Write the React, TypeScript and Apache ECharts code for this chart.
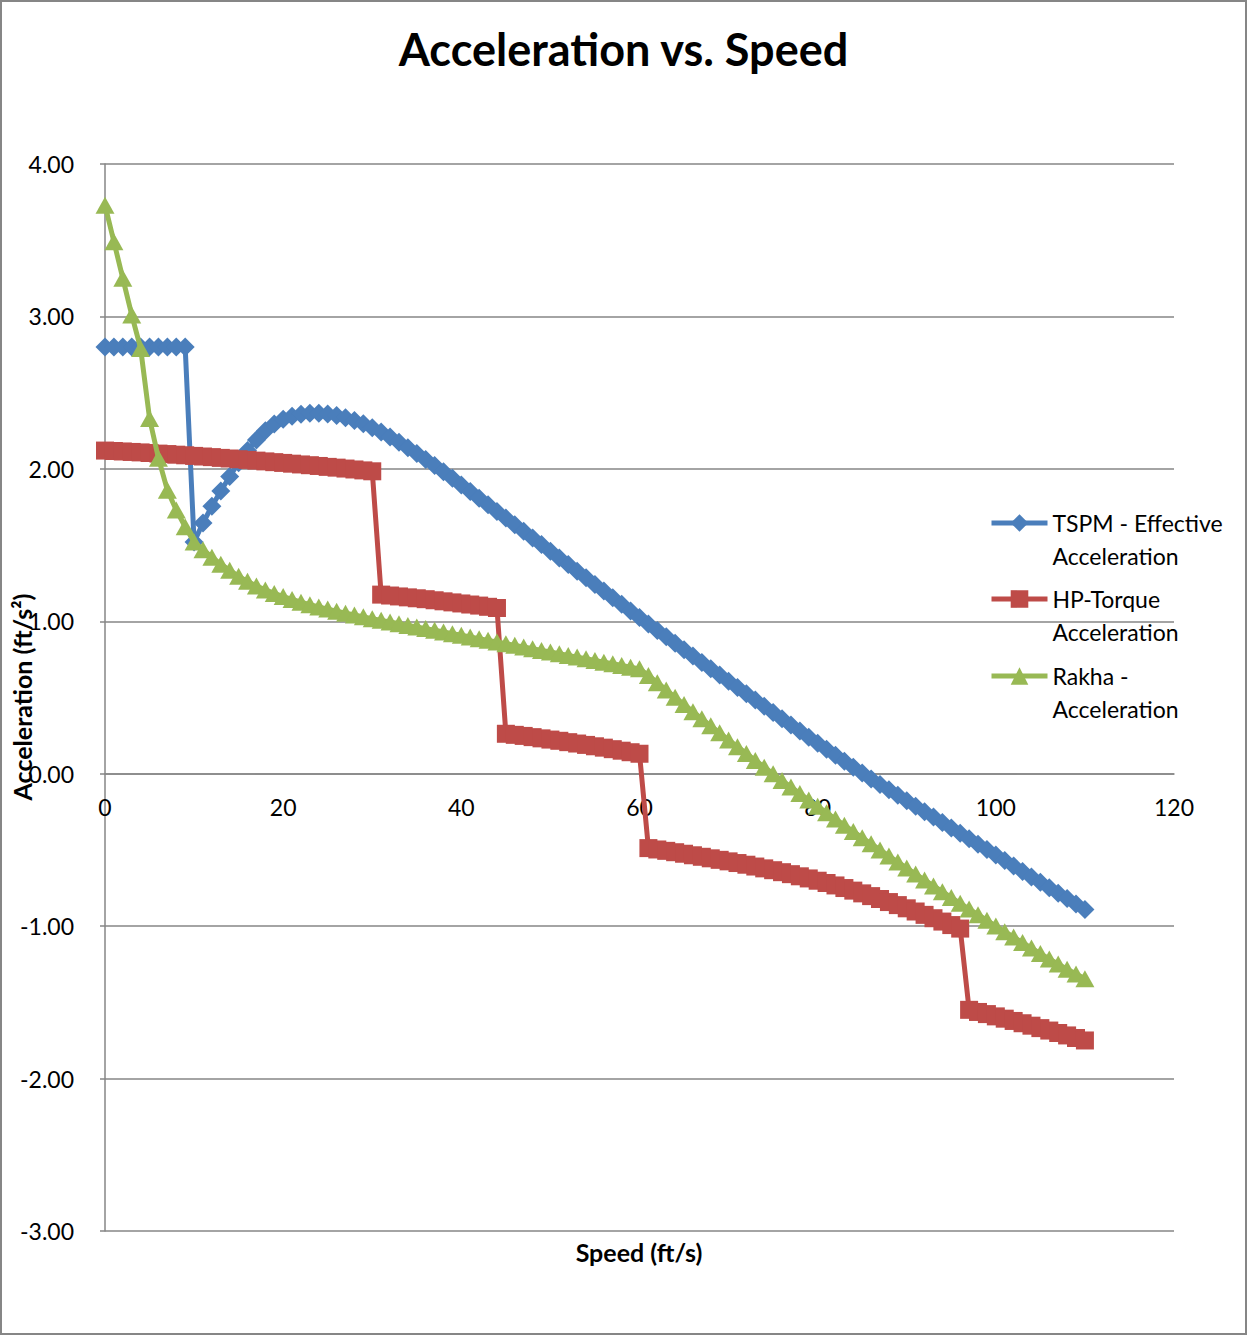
import React, { useEffect, useRef } from 'react';
import * as echarts from 'echarts';

// Speed samples (ft/s)
const speeds = [
  0, 1, 2, 3, 4, 5, 6, 7, 8, 9, 10, 11, 12, 13, 14, 15, 16, 17, 18, 19,
  20, 21, 22, 23, 24, 25, 26, 27, 28, 29, 30, 31, 32, 33, 34, 35, 36, 37, 38, 39,
  40, 41, 42, 43, 44, 45, 46, 47, 48, 49, 50, 51, 52, 53, 54, 55, 56, 57, 58, 59,
  60, 61, 62, 63, 64, 65, 66, 67, 68, 69, 70, 71, 72, 73, 74, 75, 76, 77, 78, 79,
  80, 81, 82, 83, 84, 85, 86, 87, 88, 89, 90, 91, 92, 93, 94, 95, 96, 97, 98, 99,
  100, 101, 102, 103, 104, 105, 106, 107, 108, 109, 110,
];

// TSPM - effective acceleration (ft/s^2)
const tspmAccel = [
  2.8, 2.8, 2.8, 2.8, 2.8, 2.8, 2.8, 2.8, 2.8, 2.8,
  1.52, 1.645, 1.755, 1.855, 1.95, 2.04, 2.12, 2.19, 2.25, 2.295,
  2.325, 2.345, 2.358, 2.364, 2.365, 2.36, 2.35, 2.336, 2.318, 2.296,
  2.27, 2.241, 2.209, 2.175, 2.139, 2.101, 2.062, 2.022, 1.981, 1.938,
  1.894, 1.851, 1.807, 1.764, 1.72, 1.677, 1.633, 1.59, 1.546, 1.503,
  1.459, 1.416, 1.372, 1.329, 1.285, 1.242, 1.198, 1.155, 1.111, 1.068,
  1.025, 0.982, 0.94, 0.898, 0.856, 0.814, 0.772, 0.73, 0.688, 0.647,
  0.606, 0.565, 0.524, 0.483, 0.442, 0.401, 0.36, 0.32, 0.28, 0.24,
  0.2, 0.16, 0.121, 0.082, 0.043, 0.004, -0.034, -0.07, -0.106, -0.142,
  -0.177, -0.213, -0.249, -0.284, -0.32, -0.356, -0.391, -0.427, -0.463, -0.498,
  -0.534, -0.57, -0.605, -0.641, -0.677, -0.712, -0.748, -0.784, -0.819, -0.855,
  -0.89,
];

// HP-Torque acceleration (ft/s^2), one step per gear
const hpTorqueAccel = [
  2.12, 2.117, 2.114, 2.111, 2.108, 2.104, 2.1, 2.097, 2.093, 2.089,
  2.085, 2.081, 2.077, 2.072, 2.068, 2.063, 2.059, 2.054, 2.049, 2.044,
  2.039, 2.034, 2.029, 2.024, 2.019, 2.013, 2.008, 2.002, 1.996, 1.99,
  1.984, 1.175, 1.169, 1.163, 1.157, 1.151, 1.145, 1.138, 1.131, 1.124,
  1.117, 1.11, 1.103, 1.095, 1.087, 0.262, 0.255, 0.248, 0.24, 0.232,
  0.224, 0.216, 0.207, 0.198, 0.189, 0.18, 0.171, 0.161, 0.151, 0.141,
  0.131, -0.488, -0.497, -0.506, -0.515, -0.525, -0.535, -0.545, -0.555, -0.565,
  -0.575, -0.586, -0.597, -0.609, -0.621, -0.633, -0.646, -0.659, -0.673, -0.687,
  -0.702, -0.717, -0.733, -0.75, -0.767, -0.785, -0.803, -0.822, -0.842, -0.862,
  -0.883, -0.904, -0.926, -0.948, -0.97, -0.993, -1.016, -1.549, -1.563, -1.577,
  -1.592, -1.607, -1.622, -1.637, -1.653, -1.669, -1.685, -1.701, -1.717, -1.734,
  -1.75,
];

// Rakha - acceleration (ft/s^2)
const rakhaAccel = [
  3.73, 3.49, 3.25, 3.01, 2.79, 2.33, 2.07, 1.86, 1.73, 1.62,
  1.52, 1.47, 1.42, 1.375, 1.335, 1.295, 1.262, 1.232, 1.206, 1.183,
  1.162, 1.143, 1.125, 1.109, 1.094, 1.08, 1.066, 1.053, 1.041, 1.029,
  1.017, 1.006, 0.995, 0.984, 0.973, 0.963, 0.952, 0.941, 0.93, 0.919,
  0.908, 0.897, 0.886, 0.875, 0.864, 0.853, 0.842, 0.831, 0.82, 0.809,
  0.798, 0.787, 0.776, 0.765, 0.754, 0.743, 0.732, 0.721, 0.71, 0.699,
  0.688, 0.645, 0.597, 0.549, 0.501, 0.454, 0.407, 0.36, 0.314, 0.268,
  0.222, 0.177, 0.132, 0.087, 0.043, -0.001, -0.044, -0.087, -0.13, -0.172,
  -0.214, -0.256, -0.297, -0.338, -0.379, -0.42, -0.46, -0.5, -0.54, -0.58,
  -0.619, -0.658, -0.697, -0.736, -0.774, -0.812, -0.85, -0.888, -0.925, -0.962,
  -0.999, -1.036, -1.072, -1.108, -1.144, -1.18, -1.215, -1.249, -1.282, -1.314,
  -1.345,
];

const seriesNames = [
  'TSPM - Effective Acceleration',
  'HP-Torque Acceleration',
  'Rakha - Acceleration',
];
// A blank leading line keeps the first text line level with the legend icon
const legendLabels = [
  '\nTSPM - Effective\nAcceleration',
  '\nHP-Torque\nAcceleration',
  '\nRakha -\nAcceleration',
];
const seriesColors = ['#4A7EBB', '#BE4B48', '#98B954'];
const seriesSymbols = ['diamond', 'rect', 'triangle'];
const seriesSizes: number[][] = [[19, 19], [18, 18], [19, 17]];
const seriesValues = [tspmAccel, hpTorqueAccel, rakhaAccel];

const GRID_GRAY = '#868686';
const FONT = 'Lato, "Open Sans", sans-serif';

// Plot area in pixels
const PLOT_TOP = 164;
const PLOT_BOTTOM = 1231;
const Y_MIN = -3;
const Y_MAX = 4;

export default function App() {
  const ref = useRef<HTMLDivElement>(null);

  useEffect(() => {
    document.body.style.margin = '0';
    const chart = echarts.init(ref.current!, null, { renderer: 'svg' });

    const legendTops = [523, 599, 676];
    // lift the speed axis from the bottom edge up to the zero line
    const zeroY = PLOT_TOP + ((Y_MAX - 0) / (Y_MAX - Y_MIN)) * (PLOT_BOTTOM - PLOT_TOP);
    const xAxisOffset = -(PLOT_BOTTOM - zeroY);

    chart.setOption({
      animation: false,
      backgroundColor: '#ffffff',
      textStyle: { fontFamily: FONT, color: '#000' },
      title: {
        text: 'Acceleration vs. Speed',
        left: 'center',
        top: 21,
        textStyle: { fontFamily: FONT, fontSize: 45, fontWeight: 'bold', color: '#000' },
      },
      grid: { left: 105, right: 73, top: PLOT_TOP, bottom: 1335 - PLOT_BOTTOM, containLabel: false },
      xAxis: {
        type: 'value',
        min: 0,
        max: 120,
        interval: 20,
        offset: xAxisOffset,
        axisLine: { show: true, onZero: false, lineStyle: { color: GRID_GRAY, width: 1.5 } },
        axisTick: { show: false },
        splitLine: { show: false },
        axisLabel: { fontSize: 23, color: '#000', margin: 22, fontFamily: FONT },
      },
      yAxis: {
        type: 'value',
        min: Y_MIN,
        max: Y_MAX,
        interval: 1,
        axisLine: { show: true, onZero: false, lineStyle: { color: GRID_GRAY, width: 1.5 } },
        axisTick: { show: true, length: 5, lineStyle: { color: GRID_GRAY, width: 1.5 } },
        splitLine: { show: true, lineStyle: { color: GRID_GRAY, width: 1.5 } },
        axisLabel: {
          fontSize: 23,
          color: '#000',
          margin: 31,
          fontFamily: FONT,
          formatter: (v: number) => v.toFixed(2),
        },
      },
      legend: seriesNames.map((name, i) => ({
        data: [name],
        orient: 'vertical',
        left: 989,
        top: legendTops[i] - 49.5,
        padding: 0,
        itemGap: 0,
        itemWidth: 56,
        itemHeight: 22,
        formatter: legendLabels[i],
        lineStyle: { width: 5 },
        textStyle: {
          fontFamily: FONT,
          fontSize: 23,
          lineHeight: 33,
          color: '#000',
        },
      })),
      graphic: [
        {
          type: 'rect',
          shape: { x: 1, y: 1, width: 1245, height: 1333 },
          style: { fill: 'none', stroke: GRID_GRAY, lineWidth: 2 },
          silent: true,
        },
        {
          type: 'text',
          x: 639,
          y: 1252,
          style: {
            text: 'Speed (ft/s)',
            fontFamily: FONT,
            fontSize: 25,
            fontWeight: 'bold',
            fill: '#000',
            align: 'center',
            verticalAlign: 'middle',
          },
        },
        {
          type: 'text',
          x: 22,
          y: 697,
          rotation: Math.PI / 2,
          style: {
            text: 'Acceleration (ft/s²)',
            fontFamily: FONT,
            fontSize: 25,
            fontWeight: 'bold',
            fill: '#000',
            align: 'center',
            verticalAlign: 'middle',
          },
        },
      ],
      series: seriesNames.map((name, i) => ({
        type: 'line',
        name,
        z: 2 + i,
        data: speeds.map((s, k) => [s, seriesValues[i][k]]),
        symbol: seriesSymbols[i],
        symbolSize: seriesSizes[i],
        showAllSymbol: true,
        lineStyle: { width: 5, color: seriesColors[i] },
        itemStyle: { color: seriesColors[i] },
        emphasis: { disabled: true },
      })),
    });

    return () => chart.dispose();
  }, []);

  return <div ref={ref} style={{ width: 1247, height: 1335 }} />;
}
